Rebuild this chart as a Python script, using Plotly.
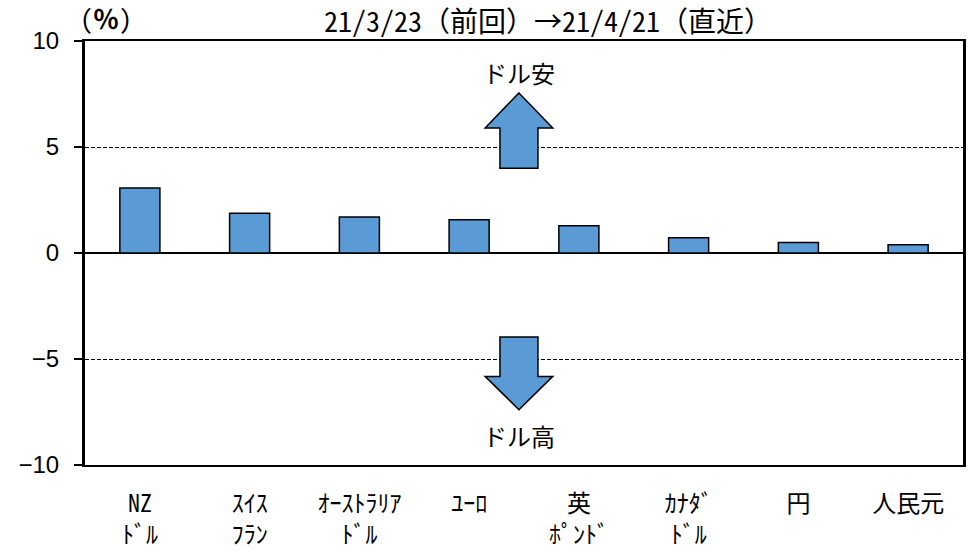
import plotly.graph_objects as go

categories = ["NZ<br>ﾄﾞﾙ", "ｽｲｽ<br>ﾌﾗﾝ", "ｵｰｽﾄﾗﾘｱ<br>ﾄﾞﾙ", "ﾕｰﾛ", "英<br>ﾎﾟﾝﾄﾞ", "ｶﾅﾀﾞ<br>ﾄﾞﾙ", "円", "人民元"]
values = [3.07, 1.87, 1.70, 1.57, 1.29, 0.72, 0.50, 0.39]
y_ticks = [-10, -5, 0, 5, 10]
title_text = "21/3/23（前回）→21/4/21（直近）"
unit_text = "(<b>％</b>)"
up_label = "ドル安"
down_label = "ドル高"

BAR = "#5B9BD5"
JP = "Noto Sans CJK JP"
MONO = "Noto Sans Mono CJK JP, Noto Sans CJK JP"
xs = list(range(len(categories)))

L, R, T, B = 85, 10, 41, 87
W, H = 973, 552
pw, ph = W - L - R, H - T - B

fig = go.Figure()
fig.add_trace(go.Bar(
    x=xs, y=values, width=0.365,
    marker=dict(color=BAR, line=dict(color="black", width=1.5)),
    showlegend=False, hoverinfo="skip",
))

# block arrows (decoration)
ax = 3.454
hw, sw = 0.308, 0.173
def arrow(tip, base, bottom):
    return (f"M {ax} {tip} L {ax+hw} {base} L {ax+sw} {base} L {ax+sw} {bottom} "
            f"L {ax-sw} {bottom} L {ax-sw} {base} L {ax-hw} {base} Z")
fig.add_shape(type="path", path=arrow(7.55, 5.9, 4.0), xref="x", yref="y",
              fillcolor=BAR, line=dict(color="black", width=1.5), layer="above")
fig.add_shape(type="path", path=arrow(-7.39, -5.82, -3.96), xref="x", yref="y",
              fillcolor=BAR, line=dict(color="black", width=1.5), layer="above")

fig.add_annotation(x=ax, y=8.5, xref="x", yref="y", text=up_label, showarrow=False,
                   font=dict(family=JP, size=24, color="black"))
fig.add_annotation(x=ax, y=-8.6, xref="x", yref="y", text=down_label, showarrow=False,
                   font=dict(family=JP, size=24, color="black"))
fig.add_annotation(x=(548 - L) / pw, y=1 + (T - 20) / ph, xref="paper", yref="paper",
                   text=title_text, showarrow=False, yanchor="middle",
                   font=dict(family=MONO, size=28, color="black"))
fig.add_annotation(x=(78 - L) / pw, y=1 + (T - 17) / ph, xref="paper", yref="paper",
                   text=unit_text, showarrow=False, xanchor="left", yanchor="middle",
                   font=dict(family=MONO, size=26, color="black"))

fig.update_layout(
    width=W, height=H,
    margin=dict(l=L, r=R, t=T, b=B, autoexpand=False),
    plot_bgcolor="white", paper_bgcolor="white",
)

fig.update_xaxes(
    range=[-0.5, len(categories) - 0.5], automargin=False,
    tickmode="array", tickvals=xs, ticktext=categories,
    showgrid=False, ticks="", ticklabelstandoff=16,
    showline=True, linecolor="black", linewidth=2, mirror=True,
    tickfont=dict(family=MONO, size=24, color="black"),
    zeroline=False,
)
fig.update_yaxes(
    range=[-10, 10], tickmode="array", tickvals=y_ticks, automargin=False,
    showgrid=True, gridcolor="black", gridwidth=1, griddash="4px,2px",
    zeroline=True, zerolinecolor="black", zerolinewidth=2,
    showline=True, linecolor="black", linewidth=3, mirror=True,
    ticks="outside", ticklen=8, tickwidth=2, tickcolor="black",
    ticklabelstandoff=10,
    tickfont=dict(family="Liberation Sans", size=24, color="black"),
)

fig.write_html("out.html", config={"displayModeBar": False},
               post_script="document.body.style.margin='0';document.body.style.overflow='hidden';")
